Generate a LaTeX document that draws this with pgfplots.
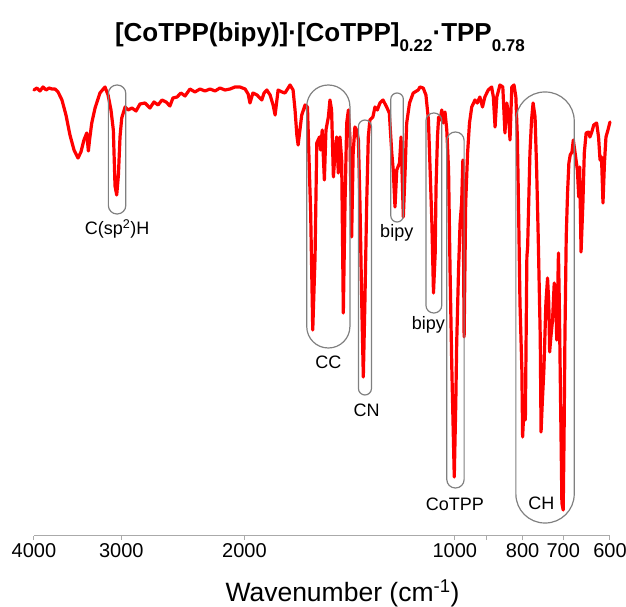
\documentclass[border=0pt]{standalone}
\usepackage{fontspec}
\setmainfont{Liberation Sans}
\usepackage{pgfplots}
\pgfplotsset{compat=1.18}
\definecolor{ellgray}{RGB}{128,128,128}
\definecolor{axgray}{RGB}{170,170,170}
\begin{document}
\begin{tikzpicture}
\path[use as bounding box] (-34pt,-71pt) rectangle (592pt,536pt);
\begin{axis}[
  at={(0pt,0pt)}, anchor=south west,
  scale only axis, width=576pt, height=466pt,
  xmode=log, x dir=reverse,
  xmin=600, xmax=4000, ymin=-6, ymax=460,
  axis x line*=bottom, axis y line=none,
  axis line style={axgray, line width=1pt},
  xtick={600,700,800,900,1000,2000,3000,4000},
  xticklabels={600,700,800,,1000,2000,3000,4000},
  minor xtick={},
  tick style={axgray, line width=1pt},
  tick align=outside, major tick length=4pt,
  xticklabel style={font=\fontsize{20}{20}\selectfont, text=black},
  /pgf/number format/assume math mode=true,
  clip=false,
  title={[CoTPP(bipy)]·[CoTPP]\raisebox{-10pt}{\fontsize{17}{17}\selectfont 0.22}·TPP\raisebox{-10pt}{\fontsize{17}{17}\selectfont 0.78}},
  title style={at={(axis description cs:0.4965,1.0472)}, anchor=base, font=\fontsize{26}{26}\selectfont\bfseries, inner sep=0pt},
  xlabel={Wavenumber (cm\textsuperscript{-1})},
  xlabel style={at={(axis description cs:0.5356,-0.141)}, anchor=base, font=\fontsize{26.5}{26.5}\selectfont, inner sep=0pt},
]
\addplot[red, line width=3.2pt, line join=round, line cap=round] coordinates {
(4000,440) (3961,442) (3922,439) (3883,443) (3845,440) (3806,442) (3770,441) (3733,441)
(3695,438) (3648,430) (3600,415) (3553,395) (3506,380) (3460,372) (3427,378) (3393,390)
(3362,397) (3344,379) (3331,390) (3307,407) (3271,422) (3219,437) (3166,443) (3134,435)
(3104,420) (3080,400) (3063,344) (3046,335) (3029,355) (3013,393) (2996,412) (2963,423)
(2934,420) (2897,422) (2858,419) (2821,426) (2775,427) (2730,422) (2694,428) (2658,425)
(2624,430) (2589,428) (2556,424) (2531,432) (2497,433) (2465,437) (2432,434) (2393,441)
(2354,438) (2315,441) (2277,439) (2240,441) (2203,439) (2168,442) (2132,440) (2097,441)
(2063,443) (2030,443) (1996,441) (1976,436) (1964,427) (1945,437) (1919,435) (1889,430)
(1875,437) (1858,440) (1838,435) (1820,425) (1808,415) (1790,440) (1767,438) (1750,437)
(1721,445) (1704,440) (1693,420) (1683,395) (1676,385) (1656,415) (1638,425) (1625,423)
(1615,360) (1608,317) (1597,200) (1585,273) (1576,387) (1562,393) (1556,380) (1548,400)
(1537,350) (1529,400) (1517,413) (1509,430) (1501,420) (1492,353) (1484,377) (1476,393)
(1468,357) (1460,393) (1452,370) (1444,217) (1436,327) (1428,407) (1420,420) (1413,393)
(1405,293) (1398,377) (1390,403) (1382,400) (1374,390) (1367,327) (1359,227) (1352,153)
(1345,227) (1337,327) (1330,393) (1323,410) (1310,413) (1301,423) (1291,420) (1280,427)
(1267,430) (1252,423) (1241,417) (1231,377) (1225,360) (1218,323) (1211,360) (1200,367)
(1194,393) (1185,313) (1178,360) (1172,407) (1161,427) (1147,437) (1128,440) (1122,443)
(1110,442) (1100,435) (1091,410) (1085,360) (1079,310) (1073,237) (1067,277) (1064,343)
(1059,393) (1055,413) (1050,410) (1044,420) (1039,407) (1033,418) (1027,400) (1021,360)
(1016,260) (1010,160) (1005,93) (1002,53) (997,127) (994,187) (988,260) (983,307)
(978,327) (974,370) (970,193) (965,327) (959,377) (953,407) (946,423) (936,430)
(929,427) (921,433) (913,423) (906,433) (896,440) (886,443) (881,433) (876,403)
(871,433) (862,445) (854,443) (848,397) (843,427) (838,417) (834,390) (829,443)
(823,445) (818,433) (814,393) (811,327) (807,227) (802,160) (800,93) (796,127)
(793,110) (789,273) (787,283) (781,377) (777,410) (773,427) (768,413) (764,360)
(760,293) (755,193) (753,98) (750,127) (746,160) (741,227) (737,252) (734,227)
(732,178) (729,193) (725,210) (721,247) (717,227) (715,190) (711,277) (709,227)
(706,127) (703,27) (700,20) (698,93) (696,193) (693,293) (690,337) (687,367)
(684,375) (680,378) (677,390) (673,377) (668,360) (665,333) (663,363) (660,278)
(656,327) (653,377) (649,397) (644,398) (641,393) (637,398) (633,405) (627,407)
(623,393) (620,370) (617,373) (614,327) (611,367) (608,393) (604,400) (600,408)
};
\begin{scope}[ellgray, line width=1.2pt]
\draw[rounded corners=8.6pt] (axis cs:3131,316) rectangle (axis cs:2956,445);
\draw[rounded corners=21.5pt] (axis cs:1629,182) rectangle (axis cs:1413,445);
\draw[rounded corners=6.6pt] (axis cs:1374,135) rectangle (axis cs:1316,410);
\draw[rounded corners=6.2pt] (axis cs:1235,308) rectangle (axis cs:1185,437);
\draw[rounded corners=7.7pt] (axis cs:1100,217) rectangle (axis cs:1044,417);
\draw[rounded corners=8.5pt] (axis cs:1027,42) rectangle (axis cs:970,398);
\draw[rounded corners=28.9pt] (axis cs:818,7) rectangle (axis cs:675,438);
\end{scope}
\begin{scope}[every node/.style={font=\fontsize{18}{18}\selectfont, text=black, inner sep=0pt}]
\node at (axis cs:3042,301) {C(sp\textsuperscript{2})H};
\node at (axis cs:1517,168) {CC};
\node at (axis cs:1337,120) {CN};
\node at (axis cs:1211,297) {bipy};
\node at (axis cs:1091,205) {bipy};
\node at (axis cs:1000,26) {CoTPP};
\node at (axis cs:752,27) {CH};
\end{scope}
\end{axis}
\end{tikzpicture}
\end{document}
